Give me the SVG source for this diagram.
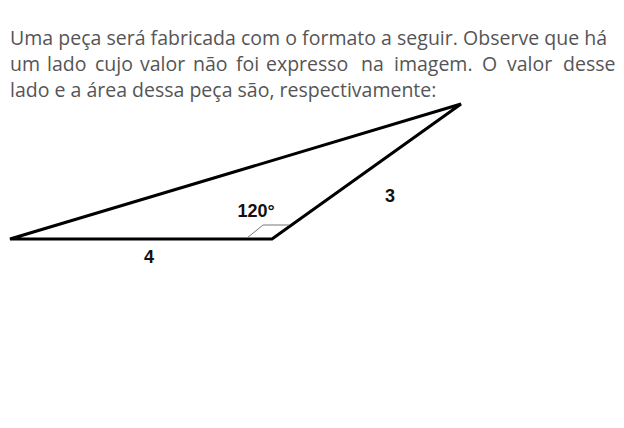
<svg xmlns="http://www.w3.org/2000/svg" width="624" height="428" viewBox="0 0 624 428">
<style>
.q{font-family:"Open Sans","Liberation Sans",sans-serif;font-size:19.5px;fill:#555555}
.lbl{font-family:"Liberation Sans",Arial,sans-serif;font-size:18px;font-weight:bold;fill:#111111}
</style>
<rect width="624" height="428" fill="#ffffff"/>
<g id="question">
<text class="q" x="10" y="45" textLength="597" lengthAdjust="spacing">Uma peça será fabricada com o formato a seguir. Observe que há</text>
<text class="q" y="71"><tspan x="10">um</tspan><tspan x="47">lado</tspan><tspan x="95">cujo</tspan><tspan x="140">valor</tspan><tspan x="193">não</tspan><tspan x="236">foi</tspan><tspan x="266">expresso</tspan><tspan x="361">na</tspan><tspan x="394">imagem.</tspan><tspan x="482">O</tspan><tspan x="507">valor</tspan><tspan x="563">desse</tspan></text>
<text class="q" x="10" y="97">lado e a área dessa peça são, respectivamente:</text>
</g>
<g id="triangle">
<polygon points="10,239 272,239 461,104" fill="none" stroke="#000" stroke-width="3" stroke-linejoin="miter"/>
<polyline points="247,238 263,225 289,225" fill="none" stroke="#777" stroke-width="1"/>
</g>
<g id="labels">
<text class="lbl" x="256" y="217" text-anchor="middle">120°</text>
<text class="lbl" x="390" y="202" text-anchor="middle">3</text>
<text class="lbl" x="149" y="263" text-anchor="middle">4</text>
</g>
</svg>
